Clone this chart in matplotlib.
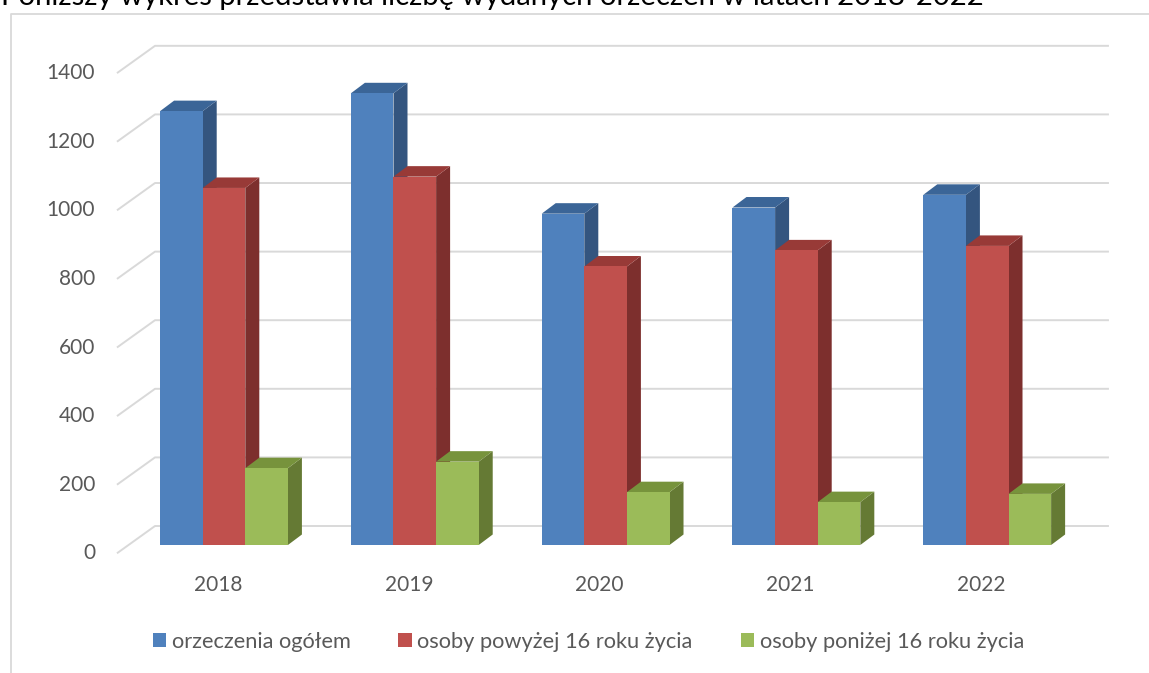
import matplotlib
matplotlib.use('Agg')
import matplotlib.pyplot as plt
import numpy as np
from matplotlib.patches import Polygon, Patch
from matplotlib.lines import Line2D

plt.rcParams['font.family'] = ['Lato', 'DejaVu Sans']

# ---- data ----
years = ['2018', '2019', '2020', '2021', '2022']
total = [1265, 1317, 966, 984, 1021]
over16 = [1041, 1074, 812, 859, 872]
under16 = [224, 243, 154, 125, 149]
series_names = ['orzeczenia ogółem', 'osoby powyżej 16 roku życia', 'osoby poniżej 16 roku życia']
yticks = [0, 200, 400, 600, 800, 1000, 1200, 1400]
title = 'Poniższy wykres przedstawia liczbę wydanych orzeczeń w latach 2018-2022'

# ---- style ----
front_cols = ['#4F81BD', '#C0504D', '#9BBB59']
top_cols = ['#3B6597', '#983A37', '#77933C']
side_cols = ['#34557F', '#7D2F2D', '#657A34']
grid_col = '#D9D9D9'
txt_col = '#595959'

W, H = 1149, 673
fig = plt.figure(figsize=(W / 100, H / 100), dpi=100)
ax = fig.add_axes([0, 0, 1, 1])
ax.set_xlim(-1.174, 4.848)
ax.set_ylim(-373.2, 1589)
ax.axis('off')

bar_w = 0.2233
dx, dy = 0.0734, 30.6          # bar depth (oblique)
front_off = -24.2               # front plane offset (value units)
back_off = 55.4                 # back wall offset
x_front, x_back, x_right = -0.561, -0.3616, 4.638

# gridlines (floor edge + back wall)
for v in yticks:
    ax.plot([x_front, x_back, x_right], [v + front_off, v + back_off, v + back_off],
            color=grid_col, lw=1.4, zorder=1, solid_capstyle='butt')
    ax.text(-0.676, v + front_off, str(v), ha='right', va='center',
            fontsize=15, color=txt_col)

xs_base = np.arange(len(years))
for s, vals in enumerate([total, over16, under16]):
    xs = xs_base + (s - 1) * bar_w
    ax.bar(xs, vals, width=bar_w, color=front_cols[s], zorder=4 + 3 * s,
           edgecolor='none')
    for x, v in zip(xs, vals):
        x0, x1 = x - bar_w / 2, x + bar_w / 2
        side = Polygon([(x1, 0), (x1 + dx, dy), (x1 + dx, v + dy), (x1, v)],
                       closed=True, fc=side_cols[s], ec='none', zorder=2 + 3 * s)
        top = Polygon([(x0, v), (x0 + dx, v + dy), (x1 + dx, v + dy), (x1, v)],
                      closed=True, fc=top_cols[s], ec='none', zorder=3 + 3 * s)
        ax.add_patch(side)
        ax.add_patch(top)

for i, y in enumerate(years):
    ax.text(i - 0.031, -118, y, ha='center', va='center', fontsize=15, color=txt_col)

handles = [Patch(fc=c, ec='none') for c in front_cols]
fig.legend(handles, series_names, loc='center', bbox_to_anchor=(0.512, 0.046),
           ncol=3, frameon=False, handlelength=0.6, handleheight=0.6,
           handletextpad=0.27, columnspacing=2.2, fontsize=15.7, labelcolor=txt_col)

# chart frame (left and top edges visible)
fig.add_artist(Line2D([10.5 / W, 10.5 / W, 1.0], [0, 1 - 14 / H, 1 - 14 / H],
                      transform=fig.transFigure, color=grid_col, lw=1.3))

# cut-off title above the frame
t = fig.text(1 / W, 1 - 5 / H, title, ha='left', va='baseline', fontsize=19, color='black')
fig.canvas.draw()
wpx = t.get_window_extent().width
t.set_fontsize(19 * 985 / wpx)

fig.savefig('out.png', dpi=100)
